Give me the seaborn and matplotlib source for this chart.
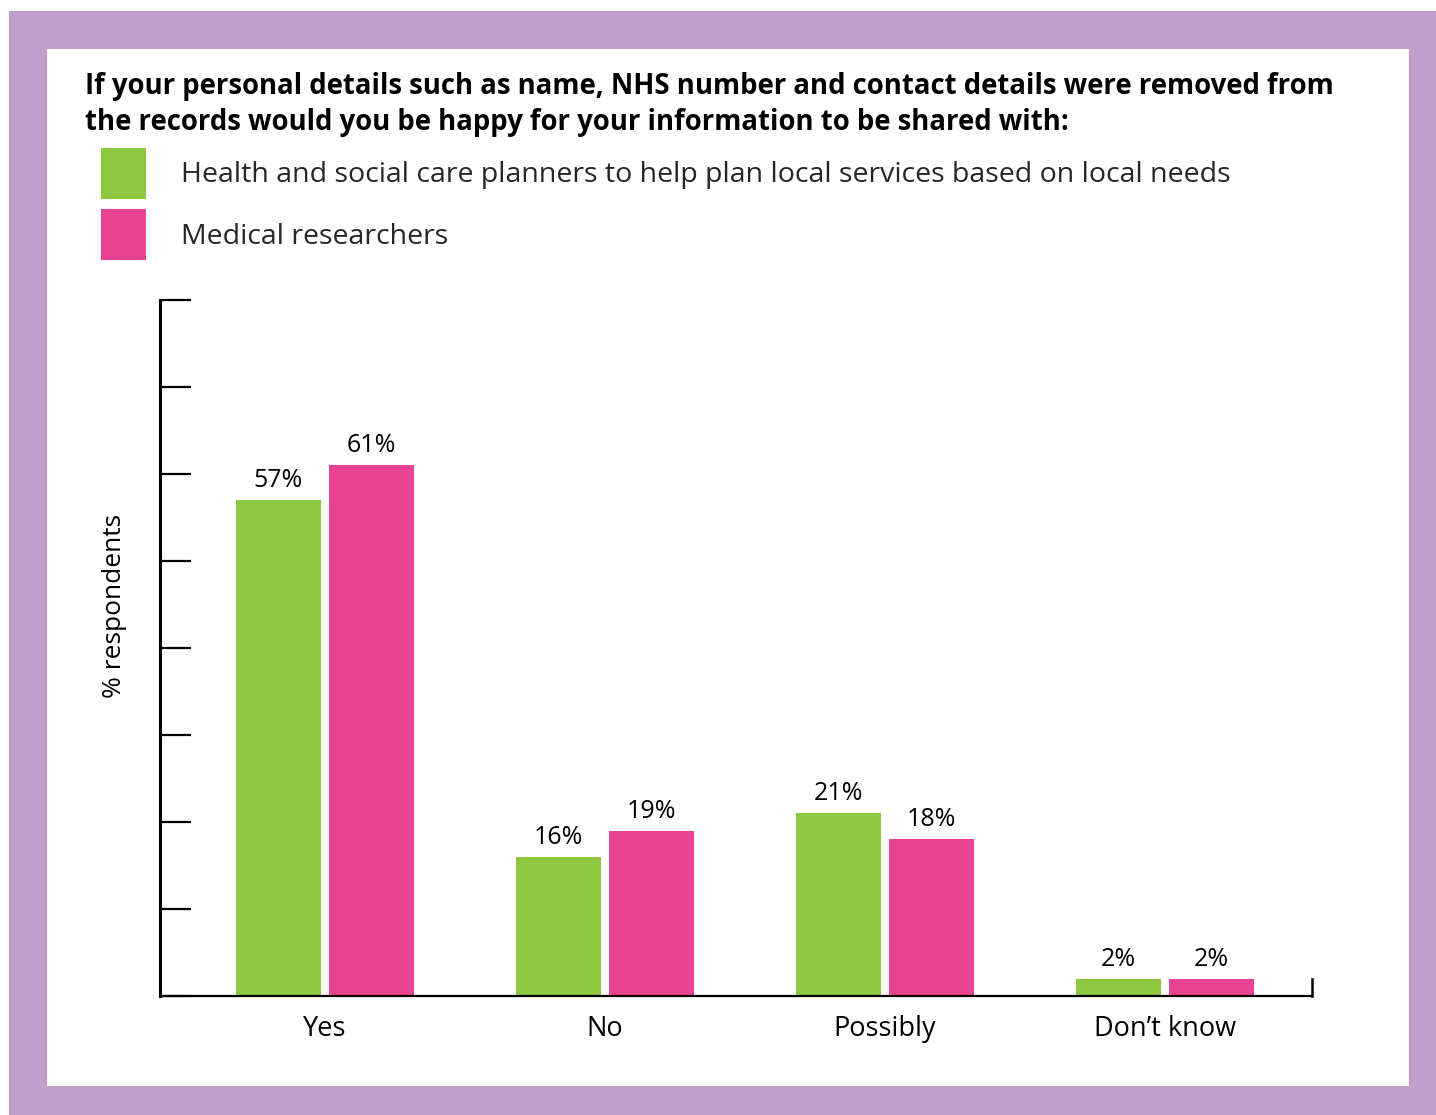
import matplotlib
matplotlib.use("Agg")
import matplotlib.pyplot as plt
from matplotlib.patches import Rectangle
import seaborn as sns
import pandas as pd

# Survey responses (% of respondents)
answers = ["Yes", "No", "Possibly", "Don\u2019t know"]
planners = [57, 16, 21, 2]
researchers = [61, 19, 18, 2]
series_names = [
    "Health and social care planners to help plan local services based on local needs",
    "Medical researchers",
]
colors = ["#8DC63F", "#E84393"]
frame_color = "#C09FCC"

title = ("If your personal details such as name, NHS number and contact details were removed from\n"
         "the records would you be happy for your information to be shared with:")

df = pd.DataFrame({
    "answer": answers * 2,
    "pct": planners + researchers,
    "group": [series_names[0]] * len(answers) + [series_names[1]] * len(answers),
})

sns.set_theme(style="ticks")
plt.rcParams["font.family"] = ["Open Sans", "DejaVu Sans"]

W, H = 1436, 1115
fig = plt.figure(figsize=(W / 100, H / 100), dpi=100)
fig.patch.set_facecolor("white")

# Lilac frame around a white panel
fig.patches.append(Rectangle((9 / W, 0), 1 - 9 / W, 1 - 11 / H, transform=fig.transFigure,
                             facecolor=frame_color, edgecolor="none", zorder=-10))
fig.patches.append(Rectangle((47 / W, 1 - 1086 / H), (1409 - 47) / W, (1086 - 49) / H,
                             transform=fig.transFigure, facecolor="white", edgecolor="none",
                             zorder=-9))

ax = fig.add_axes([160 / W, 1 - 996 / H, (1312 - 160) / W, (996 - 300) / H])
ax.set_facecolor("none")

sns.barplot(data=df, x="answer", y="pct", hue="group", order=answers,
            hue_order=series_names, palette=colors, width=0.664, gap=0.086,
            saturation=1, linewidth=0, ax=ax, legend=True)

for cont in ax.containers:
    ax.bar_label(cont, fmt="%g%%", padding=5, fontsize=18, color="black")

ax.set_ylim(0, 80)
ax.set_xlim(-0.589, 3.525)
ax.set_yticks(range(0, 81, 10))
ax.set_yticklabels([])
ax.tick_params(axis="y", direction="in", length=22, width=1.6, color="black")
ax.tick_params(axis="x", length=0, pad=13.5, labelsize=19.5, labelcolor="black")
ax.set_xlabel("")
ax.set_ylabel("% respondents", fontsize=19, color="black")
ax.yaxis.set_label_coords(-0.0286, 0.56)

ax.spines["top"].set_visible(False)
ax.spines["left"].set_linewidth(2.2)
ax.spines["left"].set_color("black")
ax.spines["bottom"].set_linewidth(1.6)
ax.spines["bottom"].set_color("black")
ax.spines["right"].set_linewidth(1.8)
ax.spines["right"].set_color("black")
ax.spines["right"].set_bounds(0, 2)

handles, labels = ax.get_legend_handles_labels()
ax.get_legend().remove()
fig.legend(handles, labels, loc="upper left", bbox_to_anchor=(95 / W, 1 - 142 / H),
           frameon=False, fontsize=20.5, handlelength=1.58, handleheight=2.4,
           handletextpad=1.23, labelspacing=0.35, borderaxespad=0, borderpad=0.2)

fig.text(85 / W, 1 - 72 / H, title, fontsize=19.8, fontweight="bold", va="top", ha="left",
         linespacing=1.3, color="black")

fig.savefig("out.png", dpi=100, facecolor=fig.get_facecolor())
